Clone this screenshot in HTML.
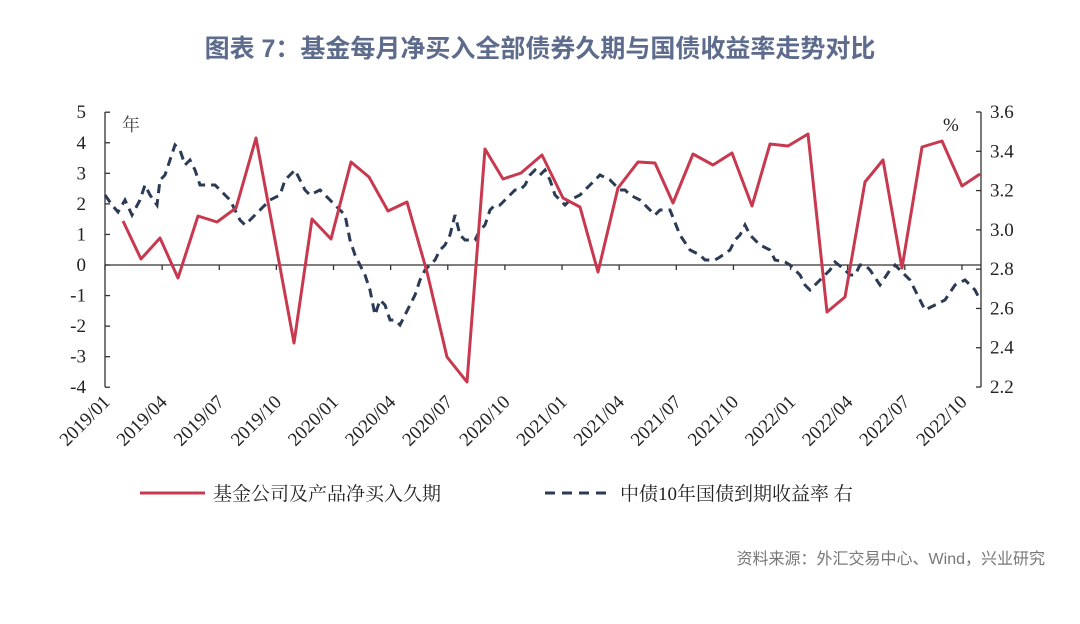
<!DOCTYPE html>
<html><head><meta charset="utf-8"><style>
body{margin:0;background:#fff;width:1080px;height:619px;overflow:hidden}
</style></head><body>
<svg width="1080" height="619" xmlns="http://www.w3.org/2000/svg" font-family="'Liberation Serif','Noto Serif CJK SC',serif">
<text x="540" y="57" text-anchor="middle" font-family="'Liberation Sans','Noto Sans CJK SC',sans-serif" font-size="25" font-weight="bold" fill="#5d6b8c">图表 7：基金每月净买入全部债券久期与国债收益率走势对比</text>
<g stroke="#333" stroke-width="1.3" fill="none">
<line x1="105" y1="112" x2="105" y2="387"/>
<line x1="981" y1="112" x2="981" y2="387"/>
<line x1="105" y1="265" x2="981" y2="265"/>
</g>
<g stroke="#333" stroke-width="1.3" id="lt"></g>
<g font-size="19" fill="#222" text-anchor="end" id="ll"></g>
<g font-size="19" fill="#222" id="rl"></g>
<g font-size="19" fill="#222" id="xl"></g>
<text x="122" y="131" font-size="18" fill="#444" font-family="'Noto Serif CJK SC',serif">年</text>
<text x="943" y="131" font-size="19" fill="#222">%</text>
<polyline fill="none" stroke="#2b3a55" stroke-width="3" stroke-dasharray="9,6" points="105,195 112,205 118,212 125,200 132,215 140,200 145,185 150,195 157,205 160,180 165,175 170,160 175,145 180,150 185,165 190,160 195,170 200,185 205,185 210,185 215,185 220,190 225,195 230,200 240,220 245,225 250,220 255,215 260,210 270,200 280,195 285,180 290,175 295,170 300,180 305,190 310,195 320,190 330,200 340,210 345,215 350,240 355,255 360,265 365,275 370,290 375,315 380,300 385,305 390,320 395,320 400,325 405,315 410,305 415,295 420,280 425,270 430,265 435,260 440,250 445,245 450,235 455,215 460,235 465,240 470,240 475,240 480,230 485,225 490,210 495,205 500,205 505,200 510,195 515,190 520,190 525,185 530,175 535,170 540,175 545,170 550,180 555,195 560,200 565,205 570,200 580,195 590,185 600,175 610,180 615,185 620,190 625,190 630,195 640,200 650,210 655,215 660,210 670,210 680,235 690,250 700,255 705,260 715,260 720,257 730,250 735,240 740,235 745,225 750,235 760,245 770,250 775,260 785,262 790,265 800,275 805,285 810,290 820,280 830,270 835,262 845,270 850,275 855,275 860,265 865,265 870,270 880,285 890,270 895,265 900,270 910,280 915,290 920,300 925,310 935,305 945,300 955,285 965,280 975,290 980,300"/>
<polyline fill="none" stroke="#c8394f" stroke-width="3" stroke-linejoin="round" points="123,221 141,259 160,238 178,278 198,216 217,222 236,208 256,138 275,240 294,343 312,219 331,239 351,162 369,177 388,211 407,202 427,272 447,357 467,382 485,149 503,179 521,173 542,155 563,198 580,207 598,272 618,188 638,162 655,163 673,203 693,154 713,165 732,153 752,206 770,144 788,146 808,134 827,312 845,297 865,182 883,160 902,268 922,147 942,141 962,186 980,174"/>
<line x1="140" y1="493" x2="205" y2="493" stroke="#c8394f" stroke-width="3"/>
<text x="213" y="500" font-size="19" fill="#222" font-family="'Noto Serif CJK SC',serif">基金公司及产品净买入久期</text>
<line x1="545" y1="493" x2="612" y2="493" stroke="#2b3a55" stroke-width="3" stroke-dasharray="10,7"/>
<text x="620" y="500" font-size="19" fill="#222" font-family="'Liberation Serif','Noto Serif CJK SC',serif">中债10年国债到期收益率 右</text>
<text x="1045" y="564" text-anchor="end" font-size="16" fill="#777" font-family="'Liberation Sans','Noto Sans CJK SC',sans-serif">资料来源：外汇交易中心、Wind，兴业研究</text>
</svg>
<script>
var ns="http://www.w3.org/2000/svg";
function el(p,t,a,txt){var e=document.createElementNS(ns,t);for(var k in a)e.setAttribute(k,a[k]);if(txt!=null)e.textContent=txt;document.getElementById(p).appendChild(e);}
for(var v=5;v>=-4;v--){var y=265-v*30.56;el("lt","line",{x1:105,y1:y,x2:110,y2:y});el("ll","text",{x:86,y:y+6},v);}
var r=["3.6","3.4","3.2","3.0","2.8","2.6","2.4","2.2"];
for(var i=0;i<8;i++){var y=112+i*39.29;el("lt","line",{x1:976,y1:y,x2:981,y2:y});el("rl","text",{x:990,y:y+6},r[i]);}
var labs=["2019/01","2019/04","2019/07","2019/10","2020/01","2020/04","2020/07","2020/10","2021/01","2021/04","2021/07","2021/10","2022/01","2022/04","2022/07","2022/10"];
for(var i=0;i<16;i++){var x=105+i*57.13;el("lt","line",{x1:x,y1:265,x2:x,y2:270});el("xl","text",{x:x+6,y:403,"text-anchor":"end",transform:"rotate(-45 "+(x+6)+" 403)"},labs[i]);}
</script>
</body></html>
